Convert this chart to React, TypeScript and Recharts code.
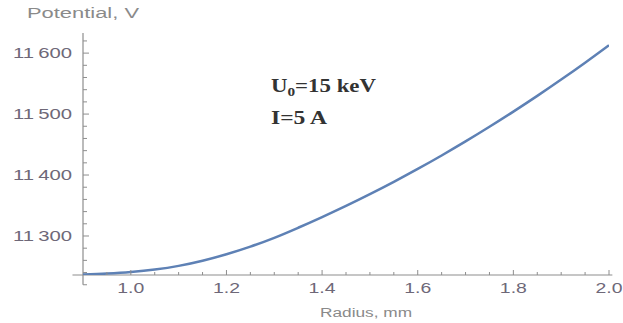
import React from 'react';
import { LineChart, Line, XAxis, YAxis, ReferenceLine } from 'recharts';

// Radius, mm
const radius = [
  0.9, 0.95, 1.0, 1.05, 1.1, 1.15, 1.2, 1.25, 1.3, 1.35, 1.4, 1.45,
  1.5, 1.55, 1.6, 1.65, 1.7, 1.75, 1.8, 1.85, 1.9, 1.95, 2.0,
];
// Potential, V
const potential = [
  11237, 11238.5, 11241, 11245, 11251, 11259.5, 11270, 11282.5, 11297, 11313.5, 11331, 11349.3,
  11368.6, 11388.8, 11410, 11432.1, 11455.1, 11479.1, 11504, 11529.8, 11556.6, 11584.3, 11613,
];

const xTicks = [
  0.95, 1.0, 1.05, 1.1, 1.15, 1.2, 1.25, 1.3, 1.35, 1.4, 1.45, 1.5,
  1.55, 1.6, 1.65, 1.7, 1.75, 1.8, 1.85, 1.9, 1.95, 2.0,
];
const xMajor = [1.0, 1.2, 1.4, 1.6, 1.8, 2.0];
const xLabels = ['1.0', '1.2', '1.4', '1.6', '1.8', '2.0'];

const yTicks = [
  11220, 11240, 11260, 11280, 11300, 11320, 11340, 11360, 11380, 11400, 11420,
  11440, 11460, 11480, 11500, 11520, 11540, 11560, 11580, 11600, 11620,
];
const yMajor = [11300, 11400, 11500, 11600];
const yLabels = ['11\u2009300', '11\u2009400', '11\u2009500', '11\u2009600'];

const xDomain = [0.9, 2.0];
const yDomain = [11236, 11633];

const data = radius.map((r, i) => ({ r, v: potential[i] }));

const AXIS = '#8e8e8e';
const TICK_TEXT = '#6e6878';
const TITLE = '#8a8a8a';
const LINE = '#5E81B5';
const TS = 4;
const TM = 4;
const SANS = '"Liberation Sans", Arial, sans-serif';
const SERIF = '"Liberation Serif", "Times New Roman", serif';

const XTick = (props: any) => {
  const { x, y, payload } = props;
  const axisY = y - (TS + TM);
  const idx = xMajor.findIndex((m) => Math.abs(m - payload.value) < 1e-6);
  const major = idx >= 0;
  return (
    <g>
      <line x1={x} x2={x} y1={axisY} y2={axisY - (major ? 5 : 3)} stroke={AXIS} strokeWidth={1} />
      {major && (
        <text
          x={x}
          y={axisY + 18}
          textAnchor="middle"
          fontFamily={SANS}
          fontSize={14}
          fill={TICK_TEXT}
          textLength={27}
          lengthAdjust="spacingAndGlyphs"
        >
          {xLabels[idx]}
        </text>
      )}
    </g>
  );
};

const YTick = (props: any) => {
  const { x, y, payload } = props;
  const axisX = x + TS + TM;
  const idx = yMajor.findIndex((m) => Math.abs(m - payload.value) < 1e-6);
  const major = idx >= 0;
  return (
    <g>
      <line x1={axisX} x2={axisX + (major ? 6 : 4)} y1={y} y2={y} stroke={AXIS} strokeWidth={1} />
      {major && (
        <text
          x={axisX - 11}
          y={y + 5}
          textAnchor="end"
          fontFamily={SANS}
          fontSize={14}
          fill={TICK_TEXT}
          textLength={59}
          lengthAdjust="spacingAndGlyphs"
        >
          {yLabels[idx]}
        </text>
      )}
    </g>
  );
};

export default function App() {
  return (
    <div style={{ position: 'absolute', left: 0, top: 0, width: 623, height: 323, background: '#fff' }}>
      <LineChart
        width={623}
        height={323}
        data={data}
        margin={{ top: 33, right: 14, bottom: 18, left: 23 }}
      >
        <XAxis
          type="number"
          dataKey="r"
          domain={xDomain}
          ticks={xTicks}
          interval={0}
          height={30}
          axisLine={false}
          tickLine={false}
          tickSize={TS}
          tickMargin={TM}
          tick={<XTick />}
          allowDataOverflow
        />
        <YAxis
          type="number"
          domain={yDomain}
          ticks={yTicks}
          interval={0}
          width={60}
          axisLine={false}
          tickLine={false}
          tickSize={TS}
          tickMargin={TM}
          tick={<YTick />}
          allowDataOverflow
        />
        <ReferenceLine
          segment={[{ x: 0.878, y: 11236 }, { x: 2.007, y: 11236 }]}
          stroke={AXIS}
          strokeWidth={1.2}
          ifOverflow="visible"
        />
        <ReferenceLine
          segment={[{ x: 0.9, y: 11220 }, { x: 0.9, y: 11633 }]}
          stroke={AXIS}
          strokeWidth={1.2}
          ifOverflow="visible"
        />
        <Line
          type="monotone"
          dataKey="v"
          stroke={LINE}
          strokeWidth={2.5}
          dot={false}
          isAnimationActive={false}
        />
      </LineChart>
      <svg
        width={623}
        height={323}
        style={{ position: 'absolute', left: 0, top: 0, pointerEvents: 'none' }}
      >
        <text
          x={27}
          y={18}
          fontFamily={SANS}
          fontSize={14}
          fill={TITLE}
          textLength={112}
          lengthAdjust="spacingAndGlyphs"
        >
          Potential, V
        </text>
        <text
          x={366}
          y={317}
          textAnchor="middle"
          fontFamily={SANS}
          fontSize={12}
          fill={TITLE}
          textLength={92}
          lengthAdjust="spacingAndGlyphs"
        >
          Radius, mm
        </text>
        <text
          x={271}
          y={92}
          fontFamily={SERIF}
          fontWeight="bold"
          fontSize={18}
          fill="#333"
          textLength={105}
          lengthAdjust="spacingAndGlyphs"
        >
          U<tspan fontSize={12} dy={4}>0</tspan>
          <tspan dy={-4}>=15 keV</tspan>
        </text>
        <text
          x={271}
          y={124}
          fontFamily={SERIF}
          fontWeight="bold"
          fontSize={18}
          fill="#333"
          textLength={56}
          lengthAdjust="spacingAndGlyphs"
        >
          I=5 A
        </text>
      </svg>
    </div>
  );
}
